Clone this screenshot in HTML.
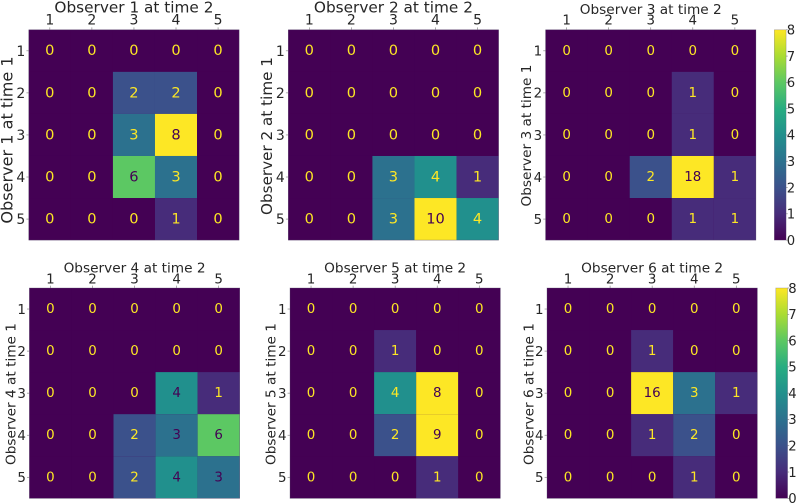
<!DOCTYPE html>
<html lang="en">
<head>
<meta charset="utf-8">
<title>Observer agreement heatmaps</title>
<style>
html,body{margin:0;padding:0;background:#fff;}
#figure{display:block;width:796px;height:504px;font-family:"DejaVu Sans","Liberation Sans",sans-serif;}
text{fill:#262626;}
</style>
</head>
<body>
<svg id="figure" xmlns="http://www.w3.org/2000/svg" width="796" height="504" viewBox="0 0 796 504"></svg>
<script>
// ---------- data ----------
const categories = [1, 2, 3, 4, 5];
const colorbarTicks = [0, 1, 2, 3, 4, 5, 6, 7, 8];
const colorMax = 8;
const viridisStops = ['#440154','#472c7a','#3b518b','#2c718e','#21908d','#27ad81','#5cc863','#aadc32','#fde725'];

const panelTitles = ['Observer 1 at time 2','Observer 2 at time 2','Observer 3 at time 2','Observer 4 at time 2','Observer 5 at time 2','Observer 6 at time 2'];
const panelYTitles = ['Observer 1 at time 1','Observer 2 at time 1','Observer 3 at time 1','Observer 4 at time 1','Observer 5 at time 1','Observer 6 at time 1'];

const counts1 = [[0,0,0,0,0],[0,0,2,2,0],[0,0,3,8,0],[0,0,6,3,0],[0,0,0,1,0]];
const counts2 = [[0,0,0,0,0],[0,0,0,0,0],[0,0,0,0,0],[0,0,3,4,1],[0,0,3,10,4]];
const counts3 = [[0,0,0,0,0],[0,0,0,1,0],[0,0,0,1,0],[0,0,2,18,1],[0,0,0,1,1]];
const counts4 = [[0,0,0,0,0],[0,0,0,0,0],[0,0,0,4,1],[0,0,2,3,6],[0,0,2,4,3]];
const counts5 = [[0,0,0,0,0],[0,0,1,0,0],[0,0,4,8,0],[0,0,2,9,0],[0,0,0,1,0]];
const counts6 = [[0,0,0,0,0],[0,0,1,0,0],[0,0,16,3,1],[0,0,1,2,0],[0,0,0,1,0]];
const panelCounts = [counts1, counts2, counts3, counts4, counts5, counts6];

// ---------- layout ----------
const panelFrames = [
  {left:28.8, top:29.8, size:210.3, titleY:12.6, tickY:24.4, yLabelX:12.4, yLabelCy:140, titleFont:15.3, yFont:16.1, tickFont:14, valueFont:14.6},
  {left:288.3,top:29.8, size:210.3, titleY:12.6, tickY:24.4, yLabelX:272.2,yLabelCy:136, titleFont:15.3, yFont:15.2, tickFont:14, valueFont:14.6},
  {left:545.6,top:29.8, size:210.3, titleY:14.2, tickY:24.4, yLabelX:531.2,yLabelCy:135.5,titleFont:13.66,yFont:13.66,tickFont:13.4, valueFont:13.4},
  {left:29.4, top:288,  size:210.3, titleY:272.6,tickY:283.4,yLabelX:15.4, yLabelCy:394, titleFont:13.66,yFont:13.66,tickFont:13.4, valueFont:13.4},
  {left:290,  top:288,  size:210.3, titleY:272.6,tickY:283.4,yLabelX:275.4,yLabelCy:394, titleFont:13.66,yFont:13.66,tickFont:13.4, valueFont:13.4},
  {left:547,  top:288,  size:210.3, titleY:272.6,tickY:283.4,yLabelX:533.4,yLabelCy:394, titleFont:13.66,yFont:13.66,tickFont:13.4, valueFont:13.4}
];
const colorbarFrames = [
  {left:774.3, top:29.8, width:11.8, height:210.3, tickFont:13.2},
  {left:775.8, top:288,  width:11.8, height:210.3, tickFont:13.2}
];

// ---------- helpers ----------
const SVG_NS = 'http://www.w3.org/2000/svg';
const figure = document.getElementById('figure');

function make(tag, parent, attrs, content) {
  const node = document.createElementNS(SVG_NS, tag);
  Object.keys(attrs).forEach(function (k) { node.setAttribute(k, attrs[k]); });
  if (content !== undefined) node.textContent = content;
  parent.appendChild(node);
  return node;
}
function hexToRgb(h) {
  return [parseInt(h.slice(1,3),16), parseInt(h.slice(3,5),16), parseInt(h.slice(5,7),16)];
}
function colorFor(value) {
  const t = Math.max(0, Math.min(1, value / colorMax)) * (viridisStops.length - 1);
  const i = Math.min(Math.floor(t), viridisStops.length - 2);
  const a = hexToRgb(viridisStops[i]);
  const b = hexToRgb(viridisStops[i + 1]);
  const f = t - i;
  return 'rgb(' + a.map(function (c, k) { return Math.round(c + (b[k] - c) * f); }).join(',') + ')';
}
function bandScale(start, length, count) {
  const step = length / count;
  return {
    edge: function (index) { return start + index * step; },
    center: function (index) { return start + (index + 0.5) * step; },
    step: step
  };
}
function linearScale(d0, d1, r0, r1) {
  return function (v) { return r0 + (v - d0) / (d1 - d0) * (r1 - r0); };
}

// ---------- gradient ----------
const defs = make('defs', figure, {});


const gradient = make('linearGradient', defs, {id:'viridis-gradient', x1:0, y1:1, x2:0, y2:0});


viridisStops.forEach(function (color, i) {
  const stop = make('stop', gradient, {offset:(i / (viridisStops.length - 1)), 'stop-color':color});
  
  
});

// ---------- panels ----------
panelCounts.forEach(function (counts, p) {
  const frame = panelFrames[p];
  const number = p + 1;
  const xScale = bandScale(frame.left, frame.size, categories.length);
  const yScale = bandScale(frame.top, frame.size, categories.length);
  const maxValue = Math.max.apply(null, counts.map(function (row) { return Math.max.apply(null, row); }));

  const group = make('g', figure, {});
  
  

  const backdrop = make('rect', group, {
    x: frame.left, y: frame.top, width: frame.size, height: frame.size, fill: colorFor(0)
  });
  
  

  counts.forEach(function (row, r) {
    row.forEach(function (value, c) {
      const cell = make('rect', group, {
        x: xScale.edge(c), y: yScale.edge(r),
        width: xScale.step, height: yScale.step,
        fill: colorFor(value)
      });
      
      
    });
  });

  const border = make('rect', group, {
    x: frame.left, y: frame.top, width: frame.size, height: frame.size,
    fill: 'none', stroke: 'rgba(90,80,110,0.55)', 'stroke-width': 0.6
  });
  
  

  counts.forEach(function (row, r) {
    row.forEach(function (value, c) {
      const label = make('text', group, {
        x: xScale.center(c), y: yScale.center(r), dy: '0.3em',
        'text-anchor': 'middle', 'font-size': frame.valueFont,
        style: 'fill:' + (value >= maxValue / 2 ? '#440154' : '#fde725')
      }, String(value));
      
      
    });
  });

  categories.forEach(function (category, i) {
    const xMark = make('line', group, {
      x1: xScale.center(i), x2: xScale.center(i), y1: frame.top - 2.4, y2: frame.top,
      stroke: '#777', 'stroke-width': 0.6
    });
    
    

    const xLabel = make('text', group, {
      x: xScale.center(i), y: frame.tickY, 'text-anchor': 'middle', 'font-size': frame.tickFont
    }, String(category));
    
    

    const yMark = make('line', group, {
      x1: frame.left - 2.4, x2: frame.left, y1: yScale.center(i), y2: yScale.center(i),
      stroke: '#777', 'stroke-width': 0.6
    });
    
    

    const yLabel = make('text', group, {
      x: frame.left - 3.5, y: yScale.center(i), dy: '0.36em', 'text-anchor': 'end', 'font-size': frame.tickFont
    }, String(category));
    
    
  });

  const title = make('text', group, {
    x: frame.left + frame.size / 2, y: frame.titleY, 'text-anchor': 'middle', 'font-size': frame.titleFont
  }, panelTitles[p]);
  
  

  const yTitle = make('text', group, {
    x: 0, y: 0, 'text-anchor': 'middle', 'font-size': frame.yFont,
    transform: 'translate(' + frame.yLabelX + ' ' + frame.yLabelCy + ') rotate(-90)'
  }, panelYTitles[p]);
  
  
});

// ---------- colorbars ----------
colorbarFrames.forEach(function (frame, b) {
  const number = b + 1;
  const valueToY = linearScale(0, colorMax, frame.top + frame.height, frame.top);

  const group = make('g', figure, {});
  
  

  const bar = make('rect', group, {
    x: frame.left, y: frame.top, width: frame.width, height: frame.height,
    fill: 'url(#viridis-gradient)', stroke: 'rgba(90,80,110,0.45)', 'stroke-width': 0.6
  });
  
  

  colorbarTicks.forEach(function (tick) {
    const mark = make('line', group, {
      x1: frame.left + frame.width, x2: frame.left + frame.width + 1.6,
      y1: valueToY(tick), y2: valueToY(tick), stroke: '#777', 'stroke-width': 0.6
    });
    
    

    const label = make('text', group, {
      x: frame.left + frame.width + 0.6, y: valueToY(tick), dy: '0.36em', 'font-size': frame.tickFont
    }, String(tick));
    
    
  });
});
</script>
</body>
</html>
